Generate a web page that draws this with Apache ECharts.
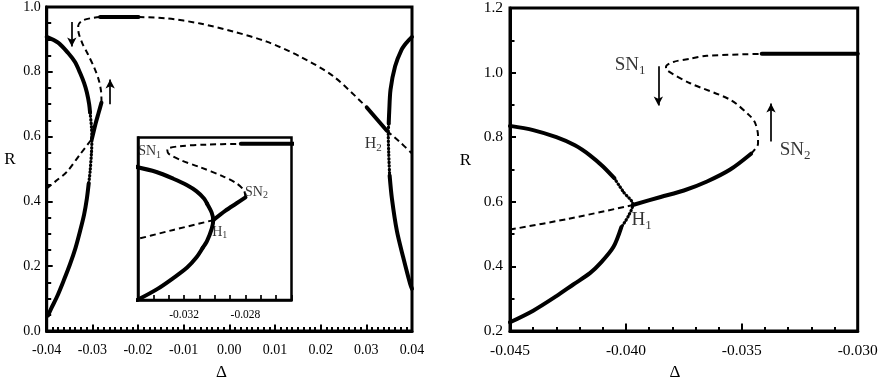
<!DOCTYPE html>
<html><head><meta charset="utf-8">
<script src="https://cdn.jsdelivr.net/npm/echarts@6/dist/echarts.min.js"></script>
<style>html,body{margin:0;padding:0;background:#fff}#c{width:883px;height:386px}</style>
</head><body><div id="c"></div>
<script>
// ---- Left panel data: [Δ, R] ----
const leftUpperSolid = [[-0.040,0.908],[-0.0375,0.890],[-0.0353,0.858],[-0.0338,0.830],[-0.0327,0.797],[-0.0318,0.765],[-0.0312,0.736],[-0.0307,0.700],[-0.0305,0.674]];
const leftH1Dotted = [[-0.0305,0.674],[-0.0302,0.630],[-0.0301,0.593],[-0.0302,0.550],[-0.0305,0.491],[-0.0308,0.455]];
const leftLowerSolid = [[-0.0308,0.455],[-0.0312,0.409],[-0.0318,0.360],[-0.0327,0.308],[-0.0337,0.256],[-0.0349,0.206],[-0.0363,0.155],[-0.0378,0.104],[-0.0390,0.070],[-0.0397,0.048]];
const leftDashedLower = [[-0.040,0.440],[-0.0378,0.465],[-0.0356,0.491],[-0.0327,0.545],[-0.0301,0.593]];
const leftSolidMid = [[-0.0301,0.593],[-0.0293,0.640],[-0.0286,0.675],[-0.0280,0.705]];
const leftDashedUpper = [[-0.0280,0.705],[-0.0281,0.740],[-0.0286,0.775],[-0.0295,0.810],[-0.0310,0.855],[-0.0322,0.888],[-0.0330,0.920],[-0.0331,0.942],[-0.0323,0.957],[-0.0305,0.965],[-0.0283,0.969]];
const topSolid = [[-0.0283,0.969],[-0.0199,0.969]];
const topDashed = [[-0.0199,0.969],[-0.0137,0.965],[-0.0064,0.949],[0.0009,0.924],[0.0082,0.893],[0.0155,0.847],[0.0228,0.786],[0.0301,0.690]];
const h2Solid = [[0.0301,0.690],[0.0345,0.618]];
const h2Dashed = [[0.0345,0.618],[0.0372,0.585],[0.0400,0.548]];
const rightUpperSolid = [[0.0400,0.908],[0.0388,0.890],[0.0377,0.868],[0.0363,0.817],[0.0353,0.745],[0.0350,0.674],[0.0349,0.640]];
const rightH2Dotted = [[0.0349,0.640],[0.0348,0.613],[0.0349,0.550],[0.0351,0.480]];
const rightLowerSolid = [[0.0351,0.480],[0.0356,0.409],[0.0367,0.308],[0.0381,0.226],[0.0396,0.145],[0.0400,0.130]];
const leftArrows = [[-0.0345,0.954,0.878],[-0.0261,0.700,0.776]];

// ---- Right panel data: [Δ, R] ----
const rUpperSolid = [[-0.045,0.835],[-0.044,0.822],[-0.043,0.800],[-0.0422,0.775],[-0.04155,0.744],[-0.0410,0.710],[-0.0405,0.673]];
const rH1Dotted = [[-0.0405,0.673],[-0.0401,0.630],[-0.0397,0.592],[-0.0399,0.555],[-0.0402,0.521]];
const rLowerSolid = [[-0.0402,0.521],[-0.04054,0.460],[-0.0411,0.410],[-0.04155,0.379],[-0.04227,0.344],[-0.0430,0.308],[-0.0440,0.263],[-0.0450,0.227]];
const rDashedLower = [[-0.045,0.514],[-0.0425,0.547],[-0.0397,0.590]];
const rSolidMid = [[-0.0397,0.590],[-0.0385,0.615],[-0.0375,0.635],[-0.0365,0.663],[-0.0355,0.700],[-0.0346,0.749]];
const rDashedUpper = [[-0.0346,0.749],[-0.0343,0.780],[-0.0343,0.805],[-0.03443,0.845],[-0.03465,0.866],[-0.0355,0.916],[-0.03723,0.967],[-0.03824,1.008],[-0.03827,1.018],[-0.03795,1.033],[-0.03723,1.043],[-0.03651,1.052],[-0.03414,1.058]];
const rTopSolid = [[-0.03414,1.058],[-0.030,1.058]];
const rightArrows = [[-0.0386,1.020,0.898],[-0.03374,0.787,0.904]];

// ---- Tick settings ----
const leftXTicks = {min:-0.04, max:0.04, step:0.01};
const leftYTicks = {min:0, max:1.0, step:0.2};
const rightXTicks = {min:-0.045, max:-0.030, step:0.005};
const rightYTicks = {min:0.2, max:1.2, step:0.2};
const insetXTicks = {min:-0.035, max:-0.025, step:0.001};
const insetXLabels = [-0.032, -0.028];
const insetYRange = {min:0.2, max:1.0};

// ---- Labels: [Δ, R, main, sub] ----
const leftLabels = [[0.0315,0.577,'H','2']];
const rightLabels = [[-0.03982,1.023,'SN','1'],[-0.0327,0.759,'SN','2'],[-0.03932,0.543,'H','1']];
const insetLabels = [[-0.03424,0.931,'SN','1'],[-0.02728,0.731,'SN','2'],[-0.02967,0.535,'H','1']];

const FONT = 'Liberation Serif';
const chart = echarts.init(document.getElementById('c'));

const styles = {
  solid: {width:4, type:'solid', cap:'round'},
  dashed: {width:2, type:[6,4], cap:'butt'},
  dotted: {width:3.2, type:[0.5,3], cap:'round'}
};
function ln(data, kind, gi, z) {
  const s = styles[kind];
  return {type:'line', data:data, xAxisIndex:gi, yAxisIndex:gi, showSymbol:false, symbol:'none',
    smooth:0.3, z:z||2, silent:true, clip:true,
    lineStyle:{color:'#000', width:s.width, type:s.type, cap:s.cap, join:'round'}};
}
function arrows(list, gi) {
  return {type:'line', data:[], xAxisIndex:gi, yAxisIndex:gi, silent:true,
    markLine:{silent:true, symbol:['none','arrow'], symbolSize:[7,9], label:{show:false},
      lineStyle:{color:'#000', width:1.7, type:'solid'},
      data:list.map(a=>[{coord:[a[0],a[1]]},{coord:[a[0],a[2]]}])}};
}
function labels(list, gi, fs, z) {
  return {type:'scatter', xAxisIndex:gi, yAxisIndex:gi, symbolSize:1, z:z||5, silent:true, clip:false,
    itemStyle:{color:'rgba(0,0,0,0)'},
    data:list.map(l=>({value:[l[0],l[1]], m:l[2], s:l[3]})),
    label:{show:true, position:'inside', color:'#000',
      formatter:p=>'{m|'+p.data.m+'}{s|'+p.data.s+'}',
      rich:{m:{fontFamily:FONT, fontSize:fs, color:'#000'},
            s:{fontFamily:FONT, fontSize:Math.round(fs*0.68), color:'#000', padding:[Math.round(fs*0.5),0,0,0]}}}};
}
function fmt(d){ return v => { let s = v.toFixed(d); if (Math.abs(v) < 1e-9) s = (0).toFixed(d); return s; }; }

const tickStyle = {show:true, inside:true, length:6, lineStyle:{color:'#000', width:2}};
const minorStyle = (n,len)=>({show:true, splitNumber:n, length:len, lineStyle:{color:'#000', width:2}});
const axisLineStyle = {show:true, onZero:false, lineStyle:{color:'#000', width:3}};
const nameStyleY = {fontFamily:FONT, fontSize:17, color:'#000', verticalAlign:'bottom', lineHeight:18};

const option = {
  animation:false,
  backgroundColor:'#fff',
  grid:[
    {left:46.7, top:6.7, width:365.3, height:327.3, show:true, borderColor:'#000', borderWidth:3, backgroundColor:'transparent'},
    {left:510, top:6.7, width:347.7, height:329, show:true, borderColor:'#000', borderWidth:3, backgroundColor:'transparent'},
    {left:138, top:137.5, width:153.5, height:162.5, show:true, borderColor:'#000', borderWidth:2.5, backgroundColor:'#fff', z:10}
  ],
  xAxis:[
    {type:'value', gridIndex:0, min:leftXTicks.min, max:leftXTicks.max, interval:leftXTicks.step,
     name:'Δ', nameLocation:'middle', nameGap:33, nameTextStyle:{fontFamily:FONT, fontSize:17, color:'#000', padding:[0,16,0,0]},
     axisLine:axisLineStyle, axisTick:{show:true, inside:true, length:6.5, lineStyle:{color:'#000', width:2}}, minorTick:minorStyle(8,4), splitLine:{show:false},
     axisLabel:{fontFamily:FONT, fontSize:14, color:'#000', margin:12, formatter:fmt(2)}},
    {type:'value', gridIndex:1, min:rightXTicks.min, max:rightXTicks.max, interval:rightXTicks.step,
     name:'Δ', nameLocation:'middle', nameGap:33, nameTextStyle:{fontFamily:FONT, fontSize:17, color:'#000', padding:[0,18,0,0]},
     axisLine:axisLineStyle, axisTick:{show:true, inside:true, length:7.5, lineStyle:{color:'#000', width:2}}, minorTick:minorStyle(5,4), splitLine:{show:false},
     axisLabel:{fontFamily:FONT, fontSize:15.5, color:'#000', margin:12, formatter:fmt(3)}},
    {type:'value', gridIndex:2, min:insetXTicks.min, max:insetXTicks.max, interval:insetXTicks.step, z:11,
     axisLine:{show:true, onZero:false, lineStyle:{color:'#000', width:2.5}}, axisTick:{show:true, inside:true, length:5, lineStyle:{color:'#000', width:1.7}},
     splitLine:{show:false},
     axisLabel:{fontFamily:FONT, fontSize:11.5, color:'#000', margin:9,
       formatter:v=>{ const r=Math.round(v*1000); return insetXLabels.some(l=>Math.round(l*1000)===r) ? (r/1000).toFixed(3) : ''; }}}
  ],
  yAxis:[
    {type:'value', gridIndex:0, min:leftYTicks.min, max:leftYTicks.max, interval:leftYTicks.step,
     name:'R', nameLocation:'middle', nameGap:31, nameRotate:0, nameTextStyle:nameStyleY,
     axisLine:axisLineStyle, axisTick:tickStyle, minorTick:minorStyle(4,4.5), splitLine:{show:false},
     axisLabel:{fontFamily:FONT, fontSize:14, color:'#000', margin:6, formatter:fmt(1)}},
    {type:'value', gridIndex:1, min:rightYTicks.min, max:rightYTicks.max, interval:rightYTicks.step,
     name:'R', nameLocation:'middle', nameGap:39, nameRotate:0, nameTextStyle:nameStyleY,
     axisLine:axisLineStyle, axisTick:tickStyle, minorTick:minorStyle(2,4.5), splitLine:{show:false},
     axisLabel:{fontFamily:FONT, fontSize:15.5, color:'#000', margin:7, formatter:fmt(1)}},
    {type:'value', gridIndex:2, min:insetYRange.min, max:insetYRange.max, z:11,
     axisLine:{show:true, onZero:false, lineStyle:{color:'#000', width:2.5}}, axisTick:{show:false}, axisLabel:{show:false}, splitLine:{show:false}}
  ],
  series:[
    ln(leftUpperSolid,'solid',0), ln(leftH1Dotted,'dotted',0), ln(leftLowerSolid,'solid',0),
    ln(leftDashedLower,'dashed',0), ln(leftSolidMid,'solid',0), ln(leftDashedUpper,'dashed',0),
    ln(topSolid,'solid',0), ln(topDashed,'dashed',0), ln(h2Solid,'solid',0), ln(h2Dashed,'dashed',0),
    ln(rightUpperSolid,'solid',0), ln(rightH2Dotted,'dotted',0), ln(rightLowerSolid,'solid',0),
    arrows(leftArrows,0), labels(leftLabels,0,16),
    ln(rUpperSolid,'solid',1), ln(rH1Dotted,'dotted',1), ln(rLowerSolid,'solid',1),
    ln(rDashedLower,'dashed',1), ln(rSolidMid,'solid',1), ln(rDashedUpper,'dashed',1), ln(rTopSolid,'solid',1),
    arrows(rightArrows,1), labels(rightLabels,1,19),
    ln(leftUpperSolid,'solid',2,12), ln(leftLowerSolid,'solid',2,12),
    ln(leftH1Dotted,'solid',2,12),
    ln(leftDashedLower,'dashed',2,12), ln(leftSolidMid,'solid',2,12), ln(leftDashedUpper,'dashed',2,12),
    ln(topSolid,'solid',2,12),
    labels(insetLabels,2,14,13)
  ]
};
chart.setOption(option);
</script></body></html>
